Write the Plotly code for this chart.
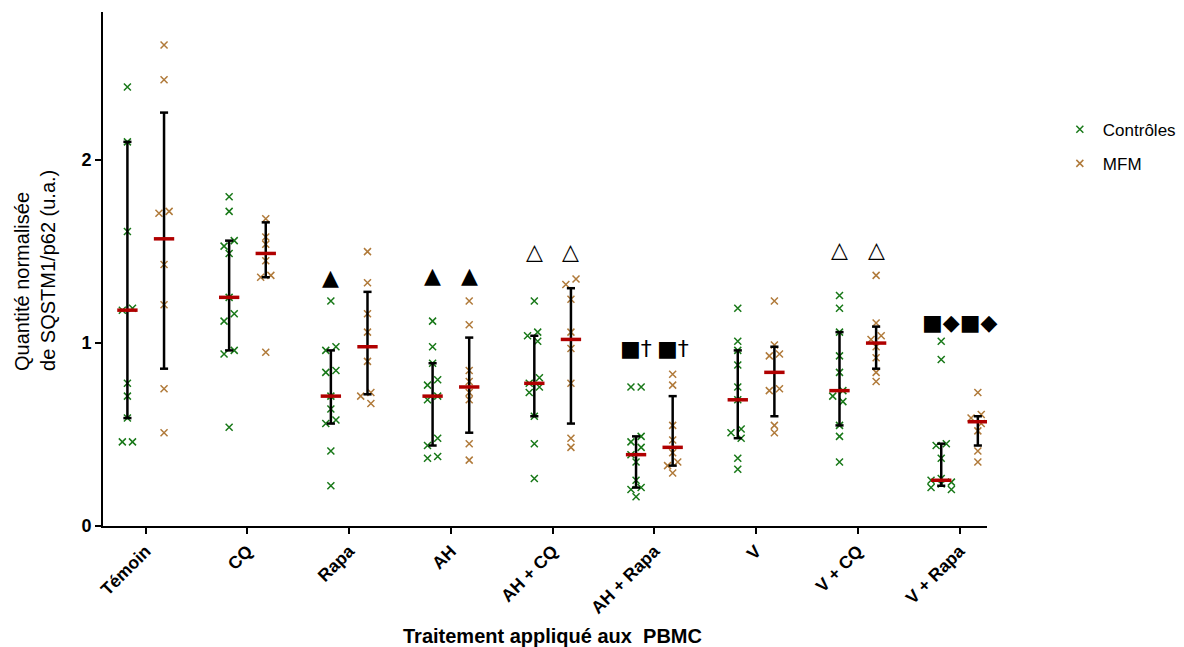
import plotly.graph_objects as go

# ---------------- data ----------------
categories = ["Témoin", "CQ", "Rapa", "AH", "AH + CQ", "AH + Rapa", "V", "V + CQ", "V + Rapa"]

ctrl_values = [
    [2.40, 2.10, 1.61, 1.19, 1.18, 0.78, 0.71, 0.59, 0.46, 0.46],
    [1.80, 1.72, 1.56, 1.53, 1.49, 1.25, 1.16, 1.12, 0.96, 0.94, 0.54],
    [1.23, 0.98, 0.96, 0.85, 0.84, 0.71, 0.64, 0.58, 0.56, 0.41, 0.22],
    [1.12, 0.98, 0.89, 0.80, 0.77, 0.71, 0.69, 0.48, 0.44, 0.38, 0.37],
    [1.23, 1.06, 1.04, 1.01, 0.81, 0.78, 0.76, 0.73, 0.60, 0.45, 0.26],
    [0.76, 0.76, 0.49, 0.46, 0.43, 0.39, 0.35, 0.25, 0.21, 0.20, 0.16],
    [1.19, 1.01, 0.96, 0.88, 0.76, 0.69, 0.53, 0.51, 0.48, 0.37, 0.31],
    [1.26, 1.19, 1.06, 0.93, 0.84, 0.74, 0.71, 0.68, 0.55, 0.49, 0.35],
    [1.01, 0.91, 0.45, 0.44, 0.37, 0.26, 0.25, 0.24, 0.23, 0.21, 0.20],
]
mfm_values = [
    [2.63, 2.44, 1.72, 1.71, 1.43, 1.21, 0.75, 0.51],
    [1.68, 1.58, 1.54, 1.45, 1.37, 1.36, 0.95],
    [1.50, 1.33, 1.16, 1.06, 0.90, 0.73, 0.71, 0.67],
    [1.23, 1.10, 0.85, 0.79, 0.73, 0.69, 0.45, 0.36],
    [1.35, 1.32, 1.24, 1.06, 0.97, 0.78, 0.48, 0.43],
    [0.83, 0.77, 0.55, 0.47, 0.40, 0.35, 0.33, 0.29],
    [1.23, 0.99, 0.94, 0.93, 0.75, 0.74, 0.55, 0.51],
    [1.37, 1.11, 1.04, 1.02, 0.98, 0.92, 0.84, 0.79],
    [0.73, 0.61, 0.59, 0.56, 0.52, 0.41, 0.35],
]

ctrl_center = [1.18, 1.25, 0.71, 0.71, 0.78, 0.39, 0.69, 0.74, 0.25]
ctrl_low    = [0.59, 0.96, 0.56, 0.44, 0.60, 0.21, 0.48, 0.55, 0.22]
ctrl_high   = [2.10, 1.56, 0.96, 0.89, 1.04, 0.49, 0.96, 1.06, 0.45]

mfm_center = [1.57, 1.49, 0.98, 0.76, 1.02, 0.43, 0.84, 1.00, 0.57]
mfm_low    = [0.86, 1.36, 0.72, 0.51, 0.56, 0.33, 0.60, 0.86, 0.44]
mfm_high   = [2.26, 1.66, 1.28, 1.03, 1.30, 0.71, 0.98, 1.09, 0.60]

# significance symbols: (category index, group: -1 ctrl / +1 MFM / 0 both, y, text)
sig_cat  = [2, 3, 3, 4, 4, 5, 5, 7, 7, 8]
sig_side = [-1, -1, 1, -1, 1, -1, 1, -1, 1, 0]
sig_y    = [1.36, 1.37, 1.37, 1.50, 1.50, 0.97, 0.97, 1.51, 1.51, 1.11]
sig_text = ["▲", "▲", "▲", "△", "△", "■†", "■†", "△", "△", "■◆■◆"]

y_title = "Quantité normalisée<br>de SQSTM1/p62 (u.a.)"
x_title = "<b>Traitement appliqué aux  PBMC</b>"

# ---------------- styling ----------------
GREEN = "#187818"
BROWN = "#B07A3A"
RED = "#B00000"
FONT = "Liberation Sans, Arial, sans-serif"
OFFSET = 0.18


def swarm(vals, step=0.1, ythr=0.04):
    """Deterministic beeswarm offsets: spread overlapping points sideways (max one step)."""
    order = sorted(range(len(vals)), key=lambda i: -vals[i])
    placed = {}
    for i in order:
        best, best_cost = 0.0, None
        for k in [0, -1, 1]:
            off = k * step
            cost = 0.0
            for j in placed:
                dy = abs(vals[j] - vals[i])
                dx = abs(placed[j] - off)
                if dy < ythr and dx < step * 0.9:
                    cost += (ythr - dy) + (step - dx)
            if best_cost is None or cost < best_cost - 1e-9:
                best, best_cost = off, cost
        placed[i] = best
    idx = list(placed)
    seen = set()
    for i in idx:
        if i in seen:
            continue
        comp, stack = [], [i]
        seen.add(i)
        while stack:
            a = stack.pop()
            comp.append(a)
            for b in idx:
                if b not in seen and abs(vals[a] - vals[b]) < ythr:
                    seen.add(b)
                    stack.append(b)
        if len(comp) > 1:
            m = sum(placed[c] for c in comp) / len(comp)
            for c in comp:
                placed[c] -= m
    return [placed[i] for i in range(len(vals))]


fig = go.Figure()


def add_points(values, sign, name, color):
    xs, ys = [], []
    for ci, vals in enumerate(values):
        offs = swarm(vals)
        for v, o in zip(vals, offs):
            xs.append(ci + sign * OFFSET + o)
            ys.append(v)
    fig.add_trace(go.Scatter(
        x=xs, y=ys, mode="markers", name=name, legendgroup=name,
        marker=dict(symbol="x-thin", size=7, color=color,
                    line=dict(color=color, width=1.5)),
    ))


add_points(ctrl_values, -1, "Contrôles", GREEN)
add_points(mfm_values, 1, "MFM", BROWN)

# error bars (vertical line + caps)
ex, ey = [], []
cap = 0.04
for sign, lows, highs in [(-1, ctrl_low, ctrl_high), (1, mfm_low, mfm_high)]:
    for ci in range(len(categories)):
        c = ci + sign * OFFSET
        lo, hi = lows[ci], highs[ci]
        ex += [c, c, None, c - cap, c + cap, None, c - cap, c + cap, None]
        ey += [lo, hi, None, lo, lo, None, hi, hi, None]
fig.add_trace(go.Scatter(x=ex, y=ey, mode="lines", line=dict(color="black", width=2.5),
                         showlegend=False, hoverinfo="skip"))

# central red bars
mx, my = [], []
half = 0.1
for sign, centers in [(-1, ctrl_center), (1, mfm_center)]:
    for ci, m in enumerate(centers):
        c = ci + sign * OFFSET
        mx += [c - half, c + half, None]
        my += [m, m, None]
fig.add_trace(go.Scatter(x=mx, y=my, mode="lines", line=dict(color=RED, width=3.5),
                         showlegend=False, hoverinfo="skip"))

# significance symbols
annotations = []
for ci, side, yv, txt in zip(sig_cat, sig_side, sig_y, sig_text):
    annotations.append(dict(
        x=ci + side * OFFSET, y=yv, xref="x", yref="y", text=txt, showarrow=False,
        font=dict(family="DejaVu Sans", size=22, color="black"),
    ))

# axis titles
annotations.append(dict(
    x=-0.077, y=0.498, xref="paper", yref="paper", xanchor="center", yanchor="middle",
    text=y_title, textangle=-90, align="left", showarrow=False,
    font=dict(family=FONT, size=20, color="black"),
))
annotations.append(dict(
    x=0.509, y=-0.214, xref="paper", yref="paper", xanchor="center", yanchor="middle",
    text=x_title, showarrow=False,
    font=dict(family=FONT, size=20, color="black"),
))

fig.update_layout(
    width=1184, height=647,
    paper_bgcolor="white", plot_bgcolor="white",
    margin=dict(l=95, r=205, t=4, b=129),
    font=dict(family=FONT, color="black"),
    showlegend=True,
    legend=dict(x=1.079, xanchor="left", y=0.806, yanchor="top",
                font=dict(family=FONT, size=17), tracegroupgap=9, itemwidth=36,
                bgcolor="rgba(0,0,0,0)"),
    annotations=annotations,
    xaxis=dict(
        range=[-0.42, 8.27], tickmode="array",
        tickvals=list(range(len(categories))), ticktext=categories,
        tickangle=-45, ticks="outside", ticklen=6, tickwidth=2, tickcolor="black",
        showline=True, linecolor="black", linewidth=2, showgrid=False, zeroline=False,
        tickfont=dict(family=FONT, size=17.5, color="black", weight="bold"),
        automargin=False,
    ),
    yaxis=dict(
        range=[0, 2.81], tickmode="array", tickvals=[0, 1, 2], ticktext=["0", "1", "2"],
        ticks="outside", ticklen=6, tickwidth=2, tickcolor="black",
        showline=True, linecolor="black", linewidth=2, showgrid=False, zeroline=False,
        tickfont=dict(family=FONT, size=18, color="black", weight="bold"),
        automargin=False,
    ),
)

fig.write_html("out.html")
